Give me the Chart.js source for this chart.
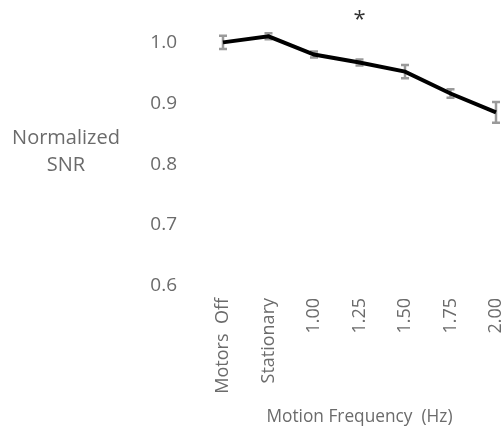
<!DOCTYPE html>
<html>
<head>
<meta charset="utf-8">
<script src="https://cdn.jsdelivr.net/npm/chart.js@4"></script>
<style>
  html, body { margin: 0; padding: 0; background: #fff; }
  #wrap { width: 504px; height: 427px; }
</style>
</head>
<body>
<div id="wrap"><canvas id="snr"></canvas></div>
<script>
const categories = ['Motors  Off', 'Stationary', '1.00', '1.25', '1.50', '1.75', '2.00'];
const snr = [1.000, 1.010, 0.980, 0.967, 0.952, 0.916, 0.885];
const snrErr = [0.011, 0.005, 0.005, 0.005, 0.011, 0.007, 0.017];
const yTicks = [0.6, 0.7, 0.8, 0.9, 1.0];
const significant = ['1.25'];

const font = '"Open Sans", sans-serif';
const grey = '#6b6b6b';

// error bars, asterisks and the horizontal y title
const extras = {
  id: 'extras',
  beforeDatasetsDraw(chart) {
    const { ctx, scales: { x, y } } = chart;
    ctx.save();
    ctx.strokeStyle = '#9a9a9a';
    ctx.lineWidth = 2.5;
    snr.forEach((v, i) => {
      const px = x.getPixelForValue(i);
      const top = y.getPixelForValue(v + snrErr[i]);
      const bot = y.getPixelForValue(v - snrErr[i]);
      ctx.beginPath();
      ctx.moveTo(px, top); ctx.lineTo(px, bot);
      ctx.moveTo(px - 4, top); ctx.lineTo(px + 4, top);
      ctx.moveTo(px - 4, bot); ctx.lineTo(px + 4, bot);
      ctx.stroke();
    });
    ctx.restore();
  },
  afterDraw(chart) {
    const { ctx, scales: { x } } = chart;
    ctx.save();
    ctx.fillStyle = '#333';
    ctx.font = '22px ' + font;
    ctx.textAlign = 'center';
    ctx.textBaseline = 'middle';
    significant.forEach(c => {
      ctx.fillText('*', x.getPixelForValue(categories.indexOf(c)), 20);
    });
    ctx.fillStyle = grey;
    ctx.font = '20px ' + font;
    ctx.fillText('Normalized', 66, 138);
    ctx.fillText('SNR', 66, 165);
    ctx.restore();
  }
};

new Chart(document.getElementById('snr'), {
  type: 'line',
  data: {
    labels: categories,
    datasets: [{
      data: snr,
      borderColor: '#000',
      borderWidth: 4,
      pointRadius: 0,
      tension: 0,
      clip: false
    }]
  },
  options: {
    responsive: true,
    maintainAspectRatio: false,
    animation: false,
    layout: { padding: { top: 18, right: 8, bottom: 0, left: 0 } },
    plugins: { legend: { display: false }, tooltip: { enabled: false } },
    scales: {
      x: {
        offset: false,
        afterFit(scale) {
          scale.height = 141;
          scale.paddingLeft = 0;
          scale.paddingRight = 0;
        },
        grid: { display: false, drawTicks: false },
        border: { display: false },
        ticks: {
          color: grey,
          font: { family: font, size: 18 },
          minRotation: 90,
          maxRotation: 90,
          padding: 12,
          autoSkip: false
        },
        title: {
          display: true,
          text: 'Motion Frequency  (Hz)',
          color: grey,
          font: { family: font, size: 17.3 },
          padding: { top: 0, bottom: 0 }
        }
      },
      y: {
        min: 0.6,
        max: 1.04,
        afterBuildTicks(scale) { scale.ticks = yTicks.map(v => ({ value: v })); },
        afterFit(scale) {
          scale.width = 223;
          scale.paddingTop = 0;
          scale.paddingBottom = 0;
        },
        grid: { display: false, drawTicks: false },
        border: { display: false },
        ticks: {
          color: grey,
          font: { family: font, size: 19 },
          padding: 46,
          callback: v => v.toFixed(1)
        }
      }
    }
  },
  plugins: [extras]
});
</script>
</body>
</html>
